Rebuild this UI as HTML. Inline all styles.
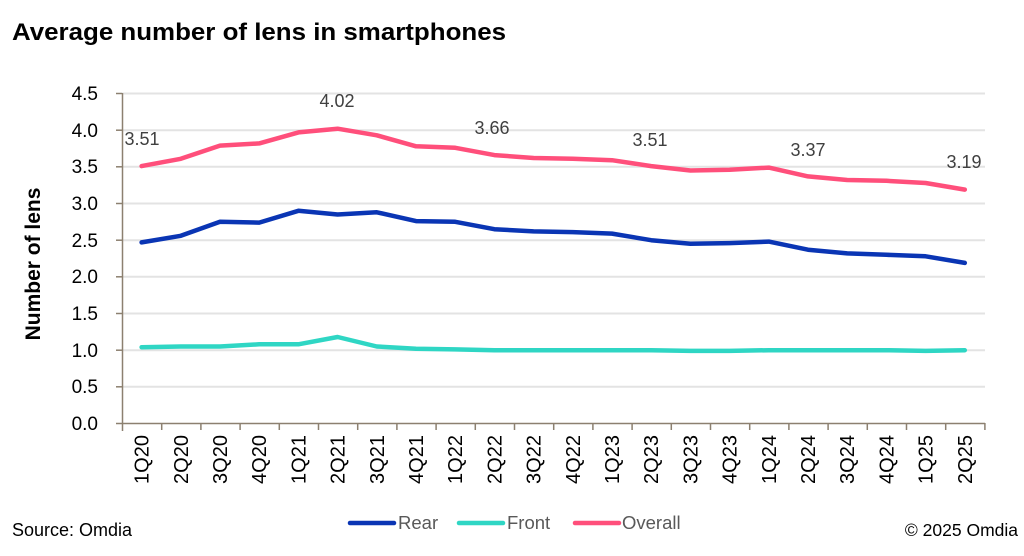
<!DOCTYPE html>
<html><head><meta charset="utf-8"><style>
html,body{margin:0;padding:0;background:#fff;}
svg{display:block;font-family:"Liberation Sans",sans-serif;}
</style></head><body>
<svg width="1024" height="556" viewBox="0 0 1024 556" xmlns="http://www.w3.org/2000/svg">
<text x="12" y="40" font-size="24" font-weight="bold" fill="#000" textLength="494" lengthAdjust="spacingAndGlyphs">Average number of lens in smartphones</text>
<g stroke="#e3e3e3" stroke-width="2">
<line x1="122" y1="93.5" x2="985" y2="93.5"/>
<line x1="122" y1="130.2" x2="985" y2="130.2"/>
<line x1="122" y1="166.8" x2="985" y2="166.8"/>
<line x1="122" y1="203.5" x2="985" y2="203.5"/>
<line x1="122" y1="240.2" x2="985" y2="240.2"/>
<line x1="122" y1="276.8" x2="985" y2="276.8"/>
<line x1="122" y1="313.5" x2="985" y2="313.5"/>
<line x1="122" y1="350.2" x2="985" y2="350.2"/>
<line x1="122" y1="386.8" x2="985" y2="386.8"/>
</g>
<g stroke="#8c8070" stroke-width="1.5" fill="none">
<line x1="122.5" y1="93" x2="122.5" y2="431"/>
<line x1="116" y1="423.5" x2="985" y2="423.5"/>
<line x1="116" y1="93.5" x2="122" y2="93.5"/><line x1="116" y1="130.2" x2="122" y2="130.2"/><line x1="116" y1="166.8" x2="122" y2="166.8"/><line x1="116" y1="203.5" x2="122" y2="203.5"/><line x1="116" y1="240.2" x2="122" y2="240.2"/><line x1="116" y1="276.8" x2="122" y2="276.8"/><line x1="116" y1="313.5" x2="122" y2="313.5"/><line x1="116" y1="350.2" x2="122" y2="350.2"/><line x1="116" y1="386.8" x2="122" y2="386.8"/>
<path d="M161.7 423v7M200.9 423v7M240.1 423v7M279.3 423v7M318.5 423v7M357.7 423v7M396.9 423v7M436.1 423v7M475.3 423v7M514.5 423v7M553.7 423v7M592.9 423v7M632.1 423v7M671.3 423v7M710.5 423v7M749.7 423v7M788.9 423v7M828.1 423v7M867.3 423v7M906.5 423v7M945.7 423v7M984.9 423v7"/>
</g>
<g font-size="19" fill="#000" text-anchor="end">
<text x="98" y="100">4.5</text><text x="98" y="137">4.0</text><text x="98" y="173">3.5</text><text x="98" y="210">3.0</text><text x="98" y="247">2.5</text><text x="98" y="283">2.0</text><text x="98" y="320">1.5</text><text x="98" y="357">1.0</text><text x="98" y="393">0.5</text><text x="98" y="430">0.0</text>
</g>
<text transform="translate(40,264) rotate(-90)" text-anchor="middle" font-size="21" font-weight="bold" fill="#000">Number of lens</text>
<g font-size="20" fill="#000" text-anchor="end">
<text transform="translate(148.6,435) rotate(-90)">1Q20</text>
<text transform="translate(187.8,435) rotate(-90)">2Q20</text>
<text transform="translate(227,435) rotate(-90)">3Q20</text>
<text transform="translate(266.2,435) rotate(-90)">4Q20</text>
<text transform="translate(305.4,435) rotate(-90)">1Q21</text>
<text transform="translate(344.6,435) rotate(-90)">2Q21</text>
<text transform="translate(383.8,435) rotate(-90)">3Q21</text>
<text transform="translate(423,435) rotate(-90)">4Q21</text>
<text transform="translate(462.2,435) rotate(-90)">1Q22</text>
<text transform="translate(501.4,435) rotate(-90)">2Q22</text>
<text transform="translate(540.6,435) rotate(-90)">3Q22</text>
<text transform="translate(579.8,435) rotate(-90)">4Q22</text>
<text transform="translate(619,435) rotate(-90)">1Q23</text>
<text transform="translate(658.2,435) rotate(-90)">2Q23</text>
<text transform="translate(697.4,435) rotate(-90)">3Q23</text>
<text transform="translate(736.6,435) rotate(-90)">4Q23</text>
<text transform="translate(775.8,435) rotate(-90)">1Q24</text>
<text transform="translate(815,435) rotate(-90)">2Q24</text>
<text transform="translate(854.2,435) rotate(-90)">3Q24</text>
<text transform="translate(893.4,435) rotate(-90)">4Q24</text>
<text transform="translate(932.6,435) rotate(-90)">1Q25</text>
<text transform="translate(971.8,435) rotate(-90)">2Q25</text>
</g>
<g fill="none" stroke-width="4.5" stroke-linejoin="round" stroke-linecap="round">
<polyline stroke="#2fd6c4" points="141.6,347.2 180.8,346.5 220,346.5 259.2,344.3 298.4,344.3 337.6,337 376.8,346.5 416,348.7 455.2,349.4 494.4,350.2 533.6,350.2 572.8,350.2 612,350.2 651.2,350.2 690.4,350.9 729.6,350.9 768.8,350.2 808,350.2 847.2,350.2 886.4,350.2 925.6,350.9 964.8,350.2"/>
<polyline stroke="#0a35b4" points="141.6,242.4 180.8,235.8 220,221.8 259.2,222.6 298.4,210.8 337.6,214.5 376.8,212.3 416,221.1 455.2,221.8 494.4,229.2 533.6,231.4 572.8,232.1 612,233.6 651.2,240.2 690.4,243.8 729.6,243.1 768.8,241.6 808,249.7 847.2,253.4 886.4,254.8 925.6,256.3 964.8,262.9"/>
<polyline stroke="#ff4f7b" points="141.6,166.1 180.8,158.8 220,145.6 259.2,143.4 298.4,132.4 337.6,128.7 376.8,135.3 416,146.3 455.2,147.8 494.4,155.1 533.6,158 572.8,158.8 612,160.2 651.2,166.1 690.4,170.5 729.6,169.8 768.8,167.6 808,176.4 847.2,180 886.4,180.8 925.6,183 964.8,189.6"/>
</g>
<g font-size="18" fill="#404040" text-anchor="middle">
<text x="142" y="145">3.51</text>
<text x="337" y="107">4.02</text>
<text x="492" y="134">3.66</text>
<text x="650" y="146">3.51</text>
<text x="808" y="156">3.37</text>
<text x="964" y="168">3.19</text>
</g>
<g stroke-width="4.5" stroke-linecap="round">
<line x1="350" y1="523" x2="394" y2="523" stroke="#0a35b4"/>
<line x1="459" y1="523" x2="503" y2="523" stroke="#2fd6c4"/>
<line x1="575" y1="523" x2="619" y2="523" stroke="#ff4f7b"/>
</g>
<g font-size="18.5" fill="#595959">
<text x="398" y="529">Rear</text>
<text x="507" y="529">Front</text>
<text x="622" y="529">Overall</text>
</g>
<text x="12" y="536" font-size="18" fill="#000">Source: Omdia</text>
<text x="1018" y="536" font-size="17.5" fill="#000" text-anchor="end">© 2025 Omdia</text>
</svg>
</body></html>
